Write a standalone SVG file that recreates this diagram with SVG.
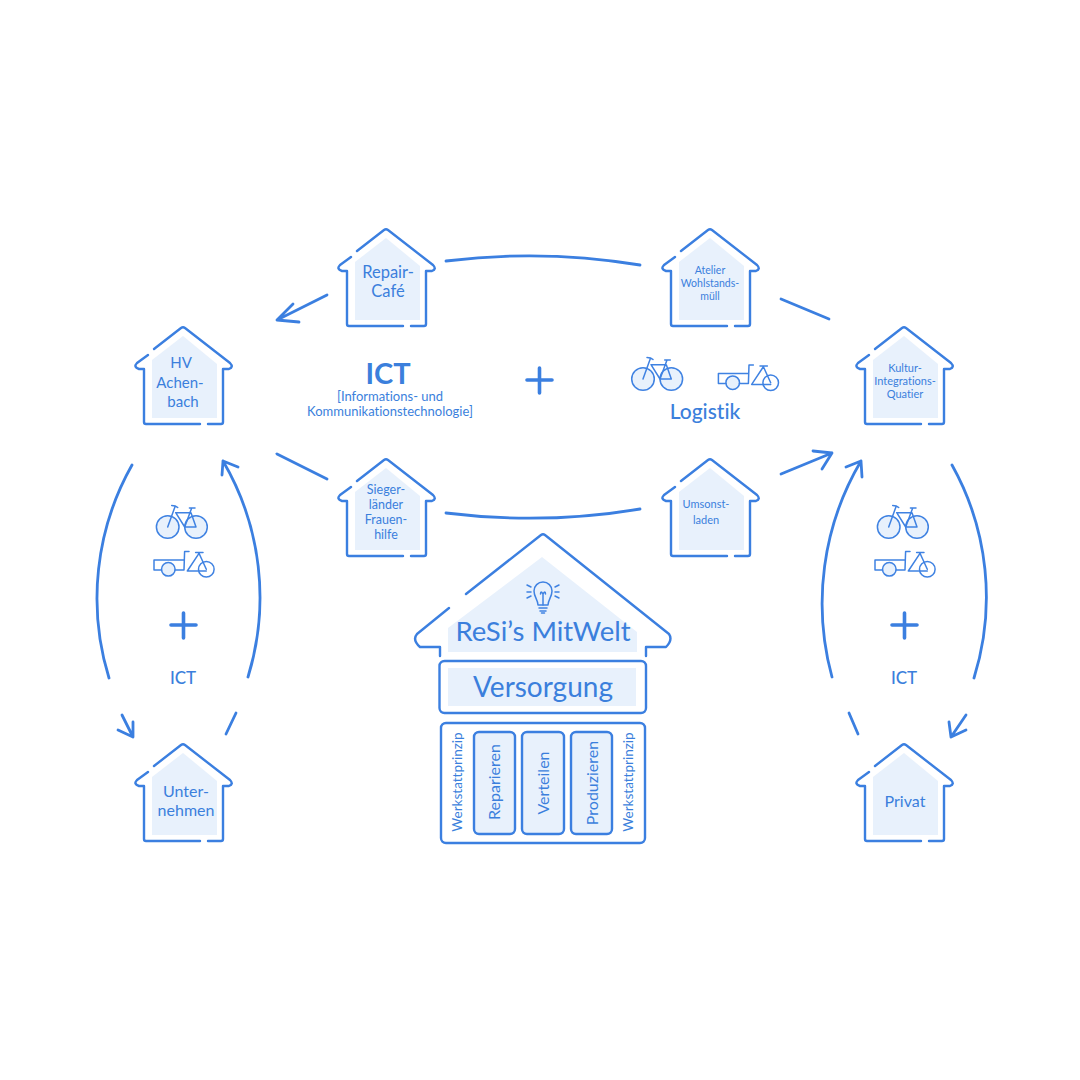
<svg xmlns="http://www.w3.org/2000/svg" width="1080" height="1080" viewBox="0 0 1080 1080">
<style>
.ln{fill:none;stroke:#3b7fe0;stroke-width:2.4;stroke-linecap:round;stroke-linejoin:round}
.thin{fill:none;stroke:#3f82e2;stroke-width:1.5;stroke-linecap:round;stroke-linejoin:round}
.wh{fill:#e8f1fc;stroke:#3f82e2;stroke-width:1.5}
.fl{fill:#e8f1fc;stroke:none}
text{font-family:"Lato","Liberation Sans",sans-serif;fill:#3b7fdc;text-anchor:middle;font-variant-ligatures:none}
.con{fill:none;stroke:#3b7fe0;stroke-width:2.8;stroke-linecap:round;stroke-linejoin:round}
.plus{fill:none;stroke:#3b7fe0;stroke-width:3.6;stroke-linecap:round}
.b{font-weight:500}
</style>
<defs>
<g id="house">
<polygon class="fl" points="0,9 34,37 34,91 -31,91 -31,33"/>
<path class="ln" d="M-29,22 L-2,1 Q0,-0.5 2,1 L47,36 Q51,40 46,42 L40,42 L40,95 Q40,97 38,97 L25,97 M17,97 L-37,97 Q-39,97 -39,95 L-39,42 L-44,42 Q-50,40 -46,36 L-35,28"/>
</g>
<g id="bike">
<circle class="wh" cx="0" cy="0" r="11.3"/>
<circle class="wh" cx="28.3" cy="0" r="11.3"/>
<path class="thin" d="M0,0 L7.3,-20.3 M4,-21.500 Q8,-21.500 10,-19.500 M8,-14.3 L23.3,-14.3 L28.3,0 L17,0 L8,-14.3 M21.700,-19 L27.300,-19 M24,-19 L17,0"/>
</g>
<g id="cargo">
<circle class="wh" cx="0" cy="0" r="6.8"/>
<circle class="thin" cx="38" cy="0" r="7.8"/>
<path class="thin" d="M20.7,-17.7 L16.3,-17.7 L15.7,0.7 L6.8,0.7 M-6.8,0.7 L-14.3,0.7 L-14.3,-9.3 L15.7,-9.3 M19,1.7 L38,1.7 M19,1.7 L30.7,-16 L38,0 M27.3,-16.7 L34.7,-16.7"/>
</g>
</defs>

<g id="connectors">
<path class="con" d="M446,261 A675,675 0 0 1 640,265"/>
<path class="con" d="M327,295 L277,320 M293,304 L277,320 L299,322"/>
<path class="con" d="M781,299 L829,319"/>
<path class="con" d="M446,513 A675,675 0 0 0 640,509"/>
<path class="con" d="M277,454 L327,479"/>
<path class="con" d="M781,474 L832,453 M813,451 L832,453 L822,469"/>
<path class="con" d="M132,465 A271,271 0 0 0 109,678"/>
<path class="con" d="M122,715 L133,737 M118,730 L133,737 L133,722"/>
<path class="con" d="M248,677 A270,270 0 0 0 223,461 M222,475 L223,461 L238,467"/>
<path class="con" d="M236,713 L226,734"/>
<path class="con" d="M952,465 A271,271 0 0 1 974,678"/>
<path class="con" d="M966,715 L951,737 M949,722 L951,737 L966,730"/>
<path class="con" d="M832,677 A280,280 0 0 1 861,461 M846,467 L861,461 L862,477"/>
<path class="con" d="M849,713 L858,734"/>
</g>

<g id="node-repair"><use href="#house" x="386" y="229"/><text x="388" y="278" font-size="16.500">Repair-</text><text x="388" y="297" font-size="16.500">Café</text></g>
<g id="node-atelier"><use href="#house" x="710" y="229"/><text x="710" y="274" font-size="10.500">Atelier</text><text x="710" y="287" font-size="10.500">Wohlstands-</text><text x="710" y="300" font-size="10.500">müll</text></g>
<g id="node-hv"><use href="#house" x="183" y="327"/><text x="181" y="368" font-size="15">HV</text><text x="180" y="388" font-size="15">Achen-</text><text x="183" y="407" font-size="15">bach</text></g>
<g id="node-kultur"><use href="#house" x="904" y="327"/><text x="905" y="372" font-size="11">Kultur-</text><text x="905" y="385" font-size="11">Integrations-</text><text x="905" y="398" font-size="11">Quatier</text></g>
<g id="node-sieger"><use href="#house" x="386" y="459"/><text x="386" y="494" font-size="12.500">Sieger-</text><text x="386" y="509" font-size="12.500">länder</text><text x="386" y="524" font-size="12.500">Frauen-</text><text x="386" y="539" font-size="12.500">hilfe</text></g>
<g id="node-umsonst"><use href="#house" x="710" y="459"/><text x="706" y="508" font-size="11">Umsonst-</text><text x="706" y="524" font-size="11">laden</text></g>
<g id="node-unternehmen"><use href="#house" x="183" y="744"/><text x="186" y="797" font-size="16">Unter-</text><text x="186" y="816" font-size="16">nehmen</text></g>
<g id="node-privat"><use href="#house" x="904" y="744"/><text x="905" y="807" font-size="16">Privat</text></g>

<g id="center-ict">
<text x="388" y="384" font-size="29" font-weight="700">ICT</text>
<text x="390" y="401" font-size="13">[Informations- und</text>
<text x="390" y="416" font-size="13">Kommunikationstechnologie]</text>
<path class="plus" d="M527,380 H552 M539.500,368 V393"/>
</g>
<g id="center-logistik">
<use href="#bike" x="643" y="379"/>
<use href="#cargo" x="732.7" y="382.7"/>
<text x="705" y="419" font-size="21" class="b">Logistik</text>
</g>
<g id="left-transport">
<use href="#bike" x="167.7" y="527"/>
<use href="#cargo" x="168.3" y="569.3"/>
<path class="plus" d="M171,625 H196 M183.500,613 V638"/>
<text x="183" y="684" font-size="17" class="b">ICT</text>
</g>
<g id="right-transport">
<use href="#bike" x="888.7" y="527"/>
<use href="#cargo" x="889.3" y="569.3"/>
<path class="plus" d="M892,625 H917 M904.500,613 V638"/>
<text x="904" y="684" font-size="17" class="b">ICT</text>
</g>

<g id="node-resi">
<polygon class="fl" points="542,557 637,632 637,652 448,652 448,628"/>
<path class="ln" d="M466,594 L541,535 Q543,533.500 545,535 L669,634 Q673,640 666,647 L646,647 L646,656 M440,656 L440,647 L420,647 Q412,640 417,634 L449,608"/>
<g class="thin">
<path d="M538,605 C538,600 534,597 534,591 A9,9 0 0 1 552,591 C552,597 548,600 548,605 Z"/>
<path d="M539,608 H547 M540,611 H546 M541.500,613 H544.500 M543,605 V594 M540.500,594 Q540.500,590 543,594 Q545.500,590 545.500,594"/>
<path d="M527,585 L531,587 M527,592 H531 M527,598 L531,596 M559,585 L555,587 M559,592 H555 M559,598 L555,596"/>
</g>
<text x="543" y="641" font-size="27.500">ReSi’s MitWelt</text>
</g>
<g id="node-versorgung">
<rect class="fl" x="448" y="668" width="188" height="38"/>
<rect class="ln" x="439.500" y="661" width="206.500" height="52" rx="5"/>
<text x="543" y="697" font-size="28">Versorgung</text>
</g>
<g id="node-werkstatt">
<rect class="ln" x="441" y="723" width="204" height="120" rx="5"/>
<rect class="fl" x="474" y="732" width="41" height="102" rx="5"/>
<rect class="ln" x="474" y="732" width="41" height="102" rx="5"/>
<rect class="fl" x="522" y="732" width="42" height="102" rx="5"/>
<rect class="ln" x="522" y="732" width="42" height="102" rx="5"/>
<rect class="fl" x="571" y="732" width="41" height="102" rx="5"/>
<rect class="ln" x="571" y="732" width="41" height="102" rx="5"/>
<text transform="translate(462,782) rotate(-90)" font-size="13.500">Werkstattprinzip</text>
<text transform="translate(500,782) rotate(-90)" font-size="16">Reparieren</text>
<text transform="translate(549,783) rotate(-90)" font-size="16">Verteilen</text>
<text transform="translate(598,783) rotate(-90)" font-size="16">Produzieren</text>
<text transform="translate(633,782) rotate(-90)" font-size="13.500">Werkstattprinzip</text>
</g>
</svg>
